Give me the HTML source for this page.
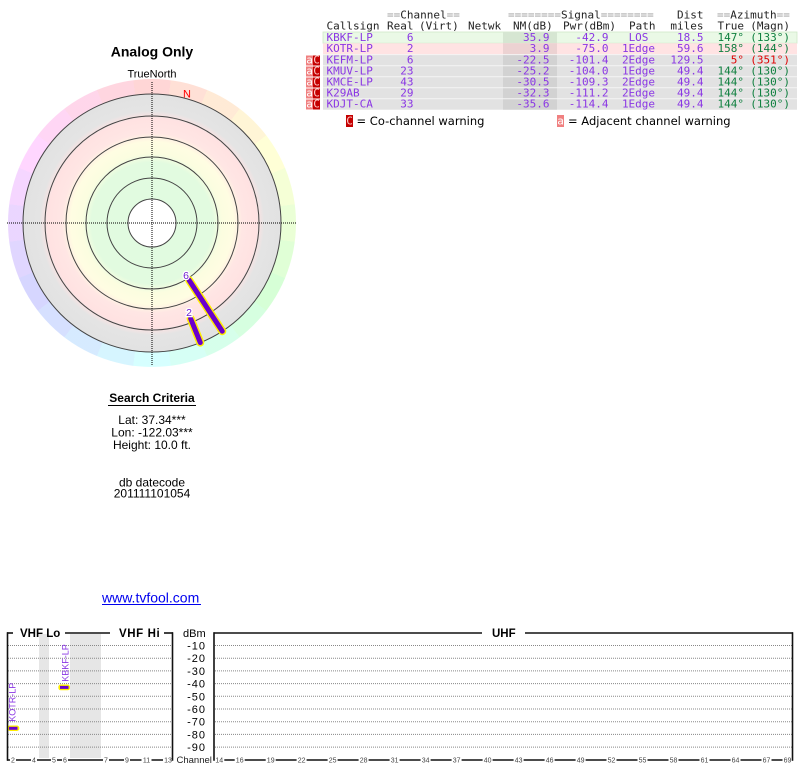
<!DOCTYPE html>
<html><head><meta charset="utf-8">
<style>
html,body{margin:0;padding:0;background:#fff;width:800px;height:768px;overflow:hidden;position:relative}
#ring{position:absolute;left:8px;top:79px;width:288px;height:288px;border-radius:50%;
background:conic-gradient(from -7.5deg,hsl(0,100%,92%) 0deg 15deg,hsl(15,100%,92%) 15deg 30deg,hsl(30,100%,92%) 30deg 45deg,hsl(45,100%,92%) 45deg 60deg,hsl(60,100%,92%) 60deg 75deg,hsl(75,100%,92%) 75deg 90deg,hsl(90,100%,92%) 90deg 105deg,hsl(105,100%,92%) 105deg 120deg,hsl(120,100%,92%) 120deg 135deg,hsl(135,100%,92%) 135deg 150deg,hsl(150,100%,92%) 150deg 165deg,hsl(165,100%,92%) 165deg 180deg,hsl(180,100%,92%) 180deg 195deg,hsl(195,100%,92%) 195deg 210deg,hsl(210,100%,92%) 210deg 225deg,hsl(225,100%,92%) 225deg 240deg,hsl(240,100%,92%) 240deg 255deg,hsl(255,100%,92%) 255deg 270deg,hsl(270,100%,92%) 270deg 285deg,hsl(285,100%,92%) 285deg 300deg,hsl(300,100%,92%) 300deg 315deg,hsl(315,100%,92%) 315deg 330deg,hsl(330,100%,92%) 330deg 345deg,hsl(345,100%,92%) 345deg 360deg)}
svg{position:absolute;left:0;top:0}
.m{font-family:"DejaVu Sans Mono","Liberation Mono",monospace;font-size:11px}
.s{font-family:"Liberation Sans",Arial,sans-serif}
.p{fill:#8a36e4}
.g{fill:#108040}
.eq{fill:#9a9a9a}
.h{fill:#222}
.t{font-family:"Liberation Sans",Arial,sans-serif;font-size:7px;fill:#444;text-anchor:middle}
</style></head><body>
<div id="ring"></div>
<svg width="800" height="768" viewBox="0 0 800 768" xmlns="http://www.w3.org/2000/svg">
<defs>
<radialGradient id="rg" gradientUnits="userSpaceOnUse" cx="152" cy="223" r="129">
<stop offset="0" stop-color="#e0fbe0"/>
<stop offset="0.47" stop-color="#e2fbe0"/>
<stop offset="0.54" stop-color="#fbfde0"/>
<stop offset="0.63" stop-color="#fffde2"/>
<stop offset="0.70" stop-color="#ffe6e4"/>
<stop offset="0.81" stop-color="#ffe2e2"/>
<stop offset="0.87" stop-color="#e4e4e4"/>
<stop offset="1" stop-color="#e2e2e2"/>
</radialGradient>
</defs>

<!-- ===== Radar ===== -->
<text x="152" y="56.5" class="s" font-size="14" font-weight="bold" text-anchor="middle" fill="#000">Analog Only</text>
<text x="152" y="77.5" class="s" font-size="11" text-anchor="middle" fill="#000">TrueNorth</text>
<circle cx="152" cy="223" r="129" fill="url(#rg)" stroke="#444" stroke-width="1"/>
<circle cx="152" cy="223" r="107" fill="none" stroke="#444" stroke-width="1"/>
<circle cx="152" cy="223" r="86" fill="none" stroke="#444" stroke-width="1"/>
<circle cx="152" cy="223" r="66" fill="none" stroke="#444" stroke-width="1"/>
<circle cx="152" cy="223" r="45" fill="none" stroke="#444" stroke-width="1"/>
<circle cx="152" cy="223" r="24" fill="#fff" stroke="#444" stroke-width="1"/>
<line x1="152" y1="82" x2="152" y2="366" stroke="#000" stroke-width="1" stroke-dasharray="1,1"/>
<line x1="7" y1="223" x2="296" y2="223" stroke="#000" stroke-width="1" stroke-dasharray="1,1"/>
<text x="187" y="97.5" class="s" font-size="11" text-anchor="middle" fill="#ff0000">N</text>

<line x1="189" y1="280" x2="222.3" y2="331.2" stroke="#ffee00" stroke-width="8" stroke-linecap="round"/>
<line x1="189" y1="280" x2="222.3" y2="331.2" stroke="#6a00cc" stroke-width="5" stroke-linecap="round"/>
<line x1="190.6" y1="318.5" x2="200.3" y2="342.6" stroke="#ffee00" stroke-width="8" stroke-linecap="round"/>
<line x1="190.6" y1="318.5" x2="200.3" y2="342.6" stroke="#6a00cc" stroke-width="5" stroke-linecap="round"/>
<text x="186" y="279" class="s" font-size="10.5" text-anchor="middle" fill="#7020d0" stroke="#fff" stroke-width="2.5" paint-order="stroke">6</text>
<text x="189" y="316" class="s" font-size="10.5" text-anchor="middle" fill="#7020d0" stroke="#fff" stroke-width="2.5" paint-order="stroke">2</text>

<!-- ===== Search criteria ===== -->
<text x="152" y="402" class="s" font-size="12" font-weight="bold" text-anchor="middle" fill="#000">Search Criteria</text>
<line x1="108" y1="405.5" x2="196" y2="405.5" stroke="#000" stroke-width="1"/>
<g class="s" font-size="12" text-anchor="middle" fill="#000">
<text x="152" y="424">Lat: 37.34***</text>
<text x="152" y="436.5">Lon: -122.03***</text>
<text x="152" y="449">Height: 10.0 ft.</text>
<text x="152" y="486.5">db datecode</text>
<text x="152" y="497.5">201111101054</text>
</g>
<text x="102" y="602.5" class="s" font-size="14" fill="#0000ee">www.tvfool.com</text>
<line x1="102" y1="604.5" x2="201" y2="604.5" stroke="#0000ee" stroke-width="1"/>

<!-- ===== Table ===== -->
<rect x="323" y="32" width="474" height="11.2" fill="#eaf9e6" stroke="#cfe8c8" stroke-width="0.8"/>
<rect x="503" y="32" width="54" height="11.2" fill="#d6e6d2"/>
<rect x="323" y="43.2" width="474" height="11.4" fill="#ffe3e3"/>
<rect x="503" y="43.2" width="54" height="11.4" fill="#ecd2d2"/>
<rect x="323" y="54.6" width="474" height="55.1" fill="#e2e2e2"/>
<rect x="503" y="54.6" width="54" height="55.1" fill="#d2d2d2"/>
<g stroke="#f4f4f4" stroke-width="1">
<line x1="323" y1="54.6" x2="797" y2="54.6"/>
<line x1="323" y1="65.7" x2="797" y2="65.7"/>
<line x1="323" y1="76.7" x2="797" y2="76.7"/>
<line x1="323" y1="87.7" x2="797" y2="87.7"/>
<line x1="323" y1="98.7" x2="797" y2="98.7"/>
</g>

<!-- warning boxes -->
<g>
<rect x="306" y="55.5" width="7" height="10" fill="#f08080"/><rect x="313" y="55.5" width="7" height="10" fill="#c40000"/>
<rect x="306" y="66.5" width="7" height="10" fill="#f08080"/><rect x="313" y="66.5" width="7" height="10" fill="#c40000"/>
<rect x="306" y="77.5" width="7" height="10" fill="#f08080"/><rect x="313" y="77.5" width="7" height="10" fill="#c40000"/>
<rect x="306" y="88.5" width="7" height="10" fill="#f08080"/><rect x="313" y="88.5" width="7" height="10" fill="#c40000"/>
<rect x="306" y="99.5" width="7" height="10" fill="#f08080"/><rect x="313" y="99.5" width="7" height="10" fill="#c40000"/>
</g>
<g class="m" font-size="10" text-anchor="middle">
<text x="309.5" y="63.5" fill="#fff">a</text><text x="316.5" y="63.5" fill="#ffc8c8">C</text>
<text x="309.5" y="74.5" fill="#fff">a</text><text x="316.5" y="74.5" fill="#ffc8c8">C</text>
<text x="309.5" y="85.5" fill="#fff">a</text><text x="316.5" y="85.5" fill="#ffc8c8">C</text>
<text x="309.5" y="96.5" fill="#fff">a</text><text x="316.5" y="96.5" fill="#ffc8c8">C</text>
<text x="309.5" y="107.5" fill="#fff">a</text><text x="316.5" y="107.5" fill="#ffc8c8">C</text>
</g>

<!-- headers -->
<g class="m">
<text x="387" y="18.5"><tspan class="eq">==</tspan><tspan class="h">Channel</tspan><tspan class="eq">==</tspan></text>
<text x="508" y="18.5"><tspan class="eq">========</tspan><tspan class="h">Signal</tspan><tspan class="eq">========</tspan></text>
<text x="703.5" y="18.5" class="h" text-anchor="end">Dist</text>
<text x="717" y="18.5"><tspan class="eq">==</tspan><tspan class="h">Azimuth</tspan><tspan class="eq">==</tspan></text>
<text x="326.5" y="29.5" class="h">Callsign</text>
<text x="387" y="29.5" class="h">Real</text>
<text x="419" y="29.5" class="h">(Virt)</text>
<text x="468" y="29.5" class="h">Netwk</text>
<text x="513" y="29.5" class="h">NM(dB)</text>
<text x="563" y="29.5" class="h">Pwr(dBm)</text>
<text x="629" y="29.5" class="h">Path</text>
<text x="703.5" y="29.5" class="h" text-anchor="end">miles</text>
<text x="717.5" y="29.5" class="h">True</text>
<text x="790" y="29.5" class="h" text-anchor="end">(Magn)</text>
</g>

<!-- rows -->
<g class="m">
<g class="p">
<text x="326.5" y="41">KBKF-LP</text>
<text x="326.5" y="52.2">KOTR-LP</text>
<text x="326.5" y="63.6">KEFM-LP</text>
<text x="326.5" y="74.7">KMUV-LP</text>
<text x="326.5" y="85.7">KMCE-LP</text>
<text x="326.5" y="96.7">K29AB</text>
<text x="326.5" y="107.7">KDJT-CA</text>
</g>
<g class="p" text-anchor="end">
<text x="413.5" y="41">6</text>
<text x="413.5" y="52.2">2</text>
<text x="413.5" y="63.6">6</text>
<text x="413.5" y="74.7">23</text>
<text x="413.5" y="85.7">43</text>
<text x="413.5" y="96.7">29</text>
<text x="413.5" y="107.7">33</text>

<text x="549.5" y="41">35.9</text>
<text x="549.5" y="52.2">3.9</text>
<text x="549.5" y="63.6">-22.5</text>
<text x="549.5" y="74.7">-25.2</text>
<text x="549.5" y="85.7">-30.5</text>
<text x="549.5" y="96.7">-32.3</text>
<text x="549.5" y="107.7">-35.6</text>

<text x="608.5" y="41">-42.9</text>
<text x="608.5" y="52.2">-75.0</text>
<text x="608.5" y="63.6">-101.4</text>
<text x="608.5" y="74.7">-104.0</text>
<text x="608.5" y="85.7">-109.3</text>
<text x="608.5" y="96.7">-111.2</text>
<text x="608.5" y="107.7">-114.4</text>

<text x="703.5" y="41">18.5</text>
<text x="703.5" y="52.2">59.6</text>
<text x="703.5" y="63.6">129.5</text>
<text x="703.5" y="74.7">49.4</text>
<text x="703.5" y="85.7">49.4</text>
<text x="703.5" y="96.7">49.4</text>
<text x="703.5" y="107.7">49.4</text>
</g>
<g class="p" text-anchor="middle">
<text x="638.5" y="41">LOS</text>
<text x="638.5" y="52.2">1Edge</text>
<text x="638.5" y="63.6">2Edge</text>
<text x="638.5" y="74.7">1Edge</text>
<text x="638.5" y="85.7">2Edge</text>
<text x="638.5" y="96.7">2Edge</text>
<text x="638.5" y="107.7">1Edge</text>
</g>
<g text-anchor="end">
<text x="744" y="41" class="g">147°</text><text x="790" y="41" class="g">(133°)</text>
<text x="744" y="52.2" class="g">158°</text><text x="790" y="52.2" class="g">(144°)</text>
<text x="744" y="63.6" fill="#e00000">5°</text><text x="790" y="63.6" fill="#e00000">(351°)</text>
<text x="744" y="74.7" class="g">144°</text><text x="790" y="74.7" class="g">(130°)</text>
<text x="744" y="85.7" class="g">144°</text><text x="790" y="85.7" class="g">(130°)</text>
<text x="744" y="96.7" class="g">144°</text><text x="790" y="96.7" class="g">(130°)</text>
<text x="744" y="107.7" class="g">144°</text><text x="790" y="107.7" class="g">(130°)</text>
</g>
</g>

<!-- legend -->
<rect x="346" y="115" width="7" height="12" fill="#c40000"/>
<text x="349.5" y="124.5" class="m" font-size="10" text-anchor="middle" fill="#ffc8c8">C</text>
<text x="356.5" y="125" font-family="DejaVu Sans,Verdana,sans-serif" font-size="11.5" fill="#000">= Co-channel warning</text>
<rect x="557" y="115" width="7" height="12" fill="#f08080"/>
<text x="560.5" y="124.5" class="m" font-size="10" text-anchor="middle" fill="#fff">a</text>
<text x="568" y="125" font-family="DejaVu Sans,Verdana,sans-serif" font-size="11.5" fill="#000">= Adjacent channel warning</text>

<!-- ===== Bottom spectrum chart ===== -->
<rect x="39" y="634" width="10" height="124" fill="#e6e6e6"/>
<rect x="70" y="634" width="31" height="124" fill="#e6e6e6"/>
<g stroke="#888" stroke-width="1" stroke-dasharray="1,1">
<line x1="8" y1="645.5" x2="172" y2="645.5"/><line x1="215" y1="645.5" x2="792" y2="645.5"/>
<line x1="8" y1="658.2" x2="172" y2="658.2"/><line x1="215" y1="658.2" x2="792" y2="658.2"/>
<line x1="8" y1="670.9" x2="172" y2="670.9"/><line x1="215" y1="670.9" x2="792" y2="670.9"/>
<line x1="8" y1="683.6" x2="172" y2="683.6"/><line x1="215" y1="683.6" x2="792" y2="683.6"/>
<line x1="8" y1="696.3" x2="172" y2="696.3"/><line x1="215" y1="696.3" x2="792" y2="696.3"/>
<line x1="8" y1="709" x2="172" y2="709"/><line x1="215" y1="709" x2="792" y2="709"/>
<line x1="8" y1="721.7" x2="172" y2="721.7"/><line x1="215" y1="721.7" x2="792" y2="721.7"/>
<line x1="8" y1="734.4" x2="172" y2="734.4"/><line x1="215" y1="734.4" x2="792" y2="734.4"/>
<line x1="8" y1="747.1" x2="172" y2="747.1"/><line x1="215" y1="747.1" x2="792" y2="747.1"/>
</g>

<!-- dBm labels -->
<g class="s" font-size="11" fill="#000">
<text x="183" y="637">dBm</text>
<g text-anchor="end" letter-spacing="1">
<text x="206" y="649.5">-10</text>
<text x="206" y="662.2">-20</text>
<text x="206" y="674.9">-30</text>
<text x="206" y="687.6">-40</text>
<text x="206" y="700.3">-50</text>
<text x="206" y="713">-60</text>
<text x="206" y="725.7">-70</text>
<text x="206" y="738.4">-80</text>
<text x="206" y="751.1">-90</text>
</g>
</g>

<!-- station bars -->
<rect x="7.3" y="725.5" width="12" height="5.5" rx="2.5" fill="#ffee00"/>
<rect x="9" y="726.8" width="8.5" height="3" fill="#6a00cc"/>
<rect x="58.3" y="684.5" width="11.7" height="5.8" rx="2.5" fill="#ffee00"/>
<rect x="60" y="685.9" width="8.5" height="3" fill="#6a00cc"/>
<text transform="translate(15.7,721.7) rotate(-90)" class="s" font-size="9" fill="#8a36e4">KOTR-LP</text>
<text transform="translate(68.3,681.7) rotate(-90)" class="s" font-size="9" fill="#8a36e4">KBKF-LP</text>

<!-- top frame lines & labels -->
<g stroke="#111" stroke-width="1.6" fill="none">
<line x1="7" y1="633" x2="13" y2="633"/>
<line x1="65" y1="633" x2="110" y2="633"/>
<line x1="164" y1="633" x2="173" y2="633"/>
<line x1="213.5" y1="633" x2="482" y2="633"/>
<line x1="525" y1="633" x2="793" y2="633"/>
<line x1="7" y1="760" x2="173" y2="760"/>
<line x1="213.5" y1="760" x2="793" y2="760"/>
</g>
<g class="s" font-size="11.5" font-weight="bold" fill="#000">
<text x="20" y="637">VHF Lo</text>
<text x="119" y="637" letter-spacing="0.6">VHF Hi</text>
<text x="492" y="637">UHF</text>
</g>

<!-- tick labels with white backgrounds -->
<g fill="#fff">
<rect x="10" y="756" width="6" height="8"/>
<rect x="31" y="756" width="6" height="8"/>
<rect x="51" y="756" width="6" height="8"/>
<rect x="62" y="756" width="6" height="8"/>
<rect x="103" y="756" width="6" height="8"/>
<rect x="124" y="756" width="6" height="8"/>
<rect x="141.5" y="756" width="10" height="8"/>
<rect x="163" y="756" width="10" height="8"/>
<rect x="174" y="755" width="40" height="10"/>
<rect x="214.3" y="756" width="10" height="8"/>
<rect x="234.7" y="756" width="10" height="8"/>
<rect x="265.7" y="756" width="10" height="8"/>
<rect x="296.6" y="756" width="10" height="8"/>
<rect x="327.6" y="756" width="10" height="8"/>
<rect x="358.6" y="756" width="10" height="8"/>
<rect x="389.6" y="756" width="10" height="8"/>
<rect x="420.6" y="756" width="10" height="8"/>
<rect x="451.6" y="756" width="10" height="8"/>
<rect x="482.6" y="756" width="10" height="8"/>
<rect x="513.6" y="756" width="10" height="8"/>
<rect x="544.6" y="756" width="10" height="8"/>
<rect x="575.6" y="756" width="10" height="8"/>
<rect x="606.5" y="756" width="10" height="8"/>
<rect x="637.5" y="756" width="10" height="8"/>
<rect x="668.5" y="756" width="10" height="8"/>
<rect x="699.5" y="756" width="10" height="8"/>
<rect x="730.5" y="756" width="10" height="8"/>
<rect x="761.5" y="756" width="10" height="8"/>
<rect x="782.5" y="756" width="10" height="8"/>
</g>
<g>
<text class="t" x="13" y="762.5">2</text>
<text class="t" x="34" y="762.5">4</text>
<text class="t" x="54" y="762.5">5</text>
<text class="t" x="65" y="762.5">6</text>
<text class="t" x="106" y="762.5">7</text>
<text class="t" x="127" y="762.5">9</text>
<text class="t" x="146.5" y="762.5">11</text>
<text class="t" x="168" y="762.5">13</text>
<text class="t" x="219.3" y="762.5">14</text>
<text class="t" x="239.7" y="762.5">16</text>
<text class="t" x="270.7" y="762.5">19</text>
<text class="t" x="301.6" y="762.5">22</text>
<text class="t" x="332.6" y="762.5">25</text>
<text class="t" x="363.6" y="762.5">28</text>
<text class="t" x="394.6" y="762.5">31</text>
<text class="t" x="425.6" y="762.5">34</text>
<text class="t" x="456.6" y="762.5">37</text>
<text class="t" x="487.6" y="762.5">40</text>
<text class="t" x="518.6" y="762.5">43</text>
<text class="t" x="549.6" y="762.5">46</text>
<text class="t" x="580.6" y="762.5">49</text>
<text class="t" x="611.5" y="762.5">52</text>
<text class="t" x="642.5" y="762.5">55</text>
<text class="t" x="673.5" y="762.5">58</text>
<text class="t" x="704.5" y="762.5">61</text>
<text class="t" x="735.5" y="762.5">64</text>
<text class="t" x="766.5" y="762.5">67</text>
<text class="t" x="787.5" y="762.5">69</text>
</g>
<text x="176.5" y="763" class="s" font-size="9.5" fill="#222">Channel</text>

<!-- frame verticals -->
<g stroke="#111" stroke-width="1.6">
<line x1="7.5" y1="632.2" x2="7.5" y2="760.8"/>
<line x1="172.5" y1="632.2" x2="172.5" y2="760.8"/>
<line x1="214" y1="632.2" x2="214" y2="760.8"/>
<line x1="792.5" y1="632.2" x2="792.5" y2="760.8"/>
</g>
</svg>
</body></html>
